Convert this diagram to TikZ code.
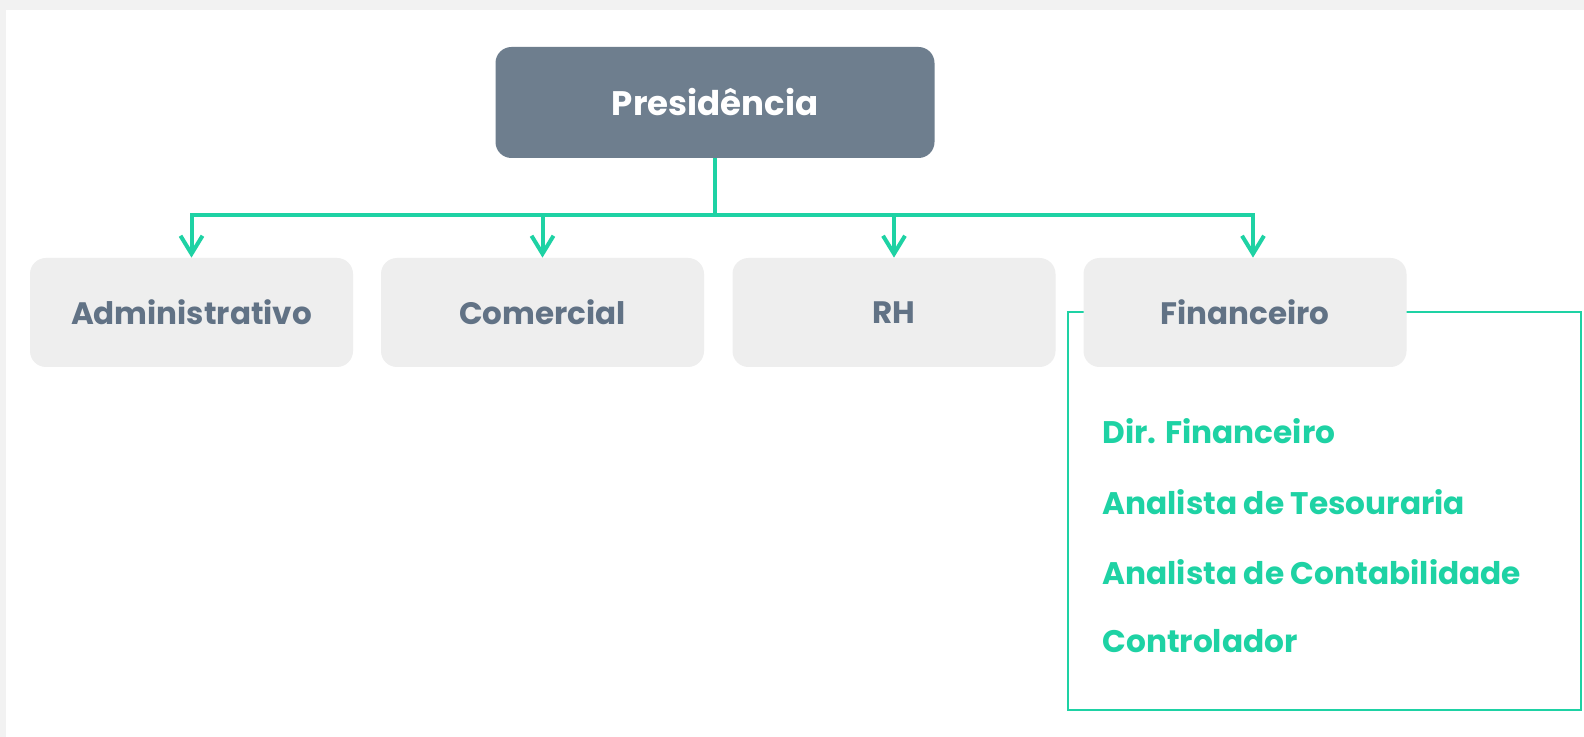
\documentclass[tikz,border=0pt]{standalone}
\usepackage{fontspec}
\setmainfont{Poppins}
\usepackage{xcolor}
\usetikzlibrary{arrows.meta}
\definecolor{slate}{HTML}{6E7E8E}
\definecolor{slatetext}{HTML}{617285}
\definecolor{lightbox}{HTML}{EEEEEE}
\definecolor{mint}{HTML}{1ED2A4}
\definecolor{frame}{HTML}{F2F2F2}
\tikzset{
    topbox/.style={rectangle,rounded corners=8pt,fill=slate,text=white,font=\bfseries\fontsize{17}{19}\selectfont,minimum width=219.5pt,minimum height=55.5pt},
    deptbox/.style={rectangle,rounded corners=8pt,fill=lightbox,text=slatetext,font=\bfseries\fontsize{15.5}{18}\selectfont,minimum width=161.5pt,minimum height=54.5pt},
    rolelabel/.style={anchor=west,text=mint,font=\bfseries\fontsize{15.6}{18}\selectfont,inner sep=0pt},
    link/.style={draw=mint,line width=2pt},
    linkarrow/.style={link,-{Straight Barb[length=9pt,width=11pt,line width=2pt]}}
}
\begin{document}
\begin{tikzpicture}[x=0.5pt,y=-0.5pt]
            \fill[frame] (0,0) rectangle (1584,737);
            \fill[white] (6,10) rectangle (1584,737);
            \node (pres) at (715,102.5) [topbox] {Presidência};
            \coordinate (bus) at (715,215);
            \draw[link,line width=1pt] (1068,312.5) rectangle (1581,710);
            \node (adm) at (191.5,312.5) [deptbox] {Administrativo};
            \node (com) at (542.5,312.5) [deptbox] {Comercial};
            \node (rh) at (894,312.5) [deptbox] {RH};
            \node (fin) at (1245,312.5) [deptbox] {Financeiro};
            \draw[link] (pres) -- (bus);
            \draw[linkarrow] (bus) -| (adm.north);
            \draw[linkarrow] (bus) -| (com.north);
            \draw[linkarrow] (bus) -| (rh.north);
            \draw[linkarrow] (bus) -| ([xshift=4pt]fin.north);
            \node (dir) at (1102,431) [rolelabel] {Dir. Financeiro};
            \node (tes) at (1102,502) [rolelabel] {Analista de Tesouraria};
            \node (cont) at (1102,572) [rolelabel] {Analista de Contabilidade};
            \node (ctrl) at (1102,641) [rolelabel] {Controlador};
        \end{tikzpicture}
\end{document}
